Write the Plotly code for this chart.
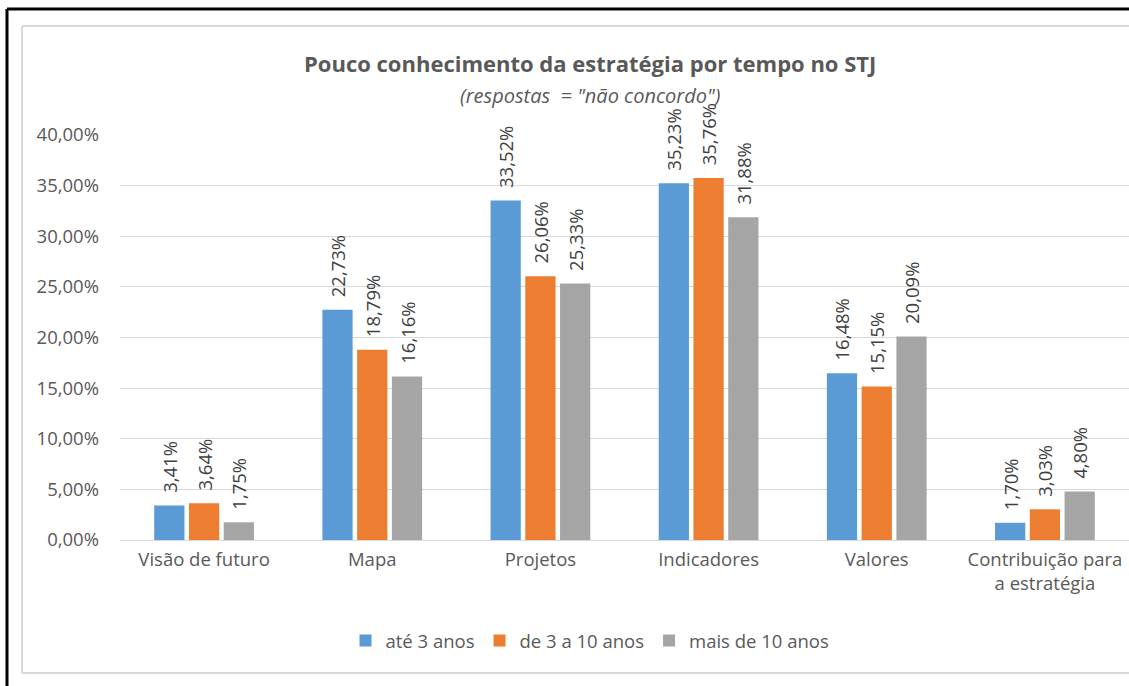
import plotly.graph_objects as go

categories = ["Visão de futuro", "Mapa", "Projetos", "Indicadores", "Valores",
              "Contribuição para<br>a estratégia"]
series_names = ["até 3 anos", "de 3 a 10 anos", "mais de 10 anos"]
ate3 = [0.0341, 0.2273, 0.3352, 0.3523, 0.1648, 0.0170]
de3a10 = [0.0364, 0.1879, 0.2606, 0.3576, 0.1515, 0.0303]
mais10 = [0.0175, 0.1616, 0.2533, 0.3188, 0.2009, 0.0480]
colors = ["#5B9BD5", "#ED7D31", "#A5A5A5"]
y_ticks = [0, 0.05, 0.10, 0.15, 0.20, 0.25, 0.30, 0.35, 0.40]
y_tick_labels = ["0,00%", "5,00%", "10,00%", "15,00%", "20,00%", "25,00%",
                 "30,00%", "35,00%", "40,00%"]

FONT = "Open Sans"
TXT = "#595959"

def fmt(v):
    # leading non-breaking spaces emulate Excel's label padding above the bar
    return "\u00a0\u00a0" + f"{v*100:.2f}%".replace(".", ",")

fig = go.Figure()
for name, vals, col in zip(series_names, [ate3, de3a10, mais10], colors):
    fig.add_trace(go.Bar(
        x=categories, y=vals, name=name,
        marker=dict(color=col, line=dict(width=0)),
        text=[fmt(v) for v in vals],
        textposition="outside", textangle=-90,
        textfont=dict(family=FONT, size=18.5, color="#404040"),
        cliponaxis=False, constraintext="none",
        hoverinfo="skip",
    ))

W, H = 1129, 686
ml, mr, mt, mb = 120, 0, 135, 146
pw = W - ml - mr
ph = H - mt - mb

def px_x(x):
    return (x - ml) / pw

def px_y(y):
    return (H - mb - y) / ph

title_x = px_x(590)

def hline(x0, x1, y, color, width):
    return dict(type="line", xref="paper", yref="paper",
                x0=px_x(x0), x1=px_x(x1), y0=px_y(y), y1=px_y(y),
                line=dict(color=color, width=width))

def vline(x, y0, y1, color, width):
    return dict(type="line", xref="paper", yref="paper",
                x0=px_x(x), x1=px_x(x), y0=px_y(y0), y1=px_y(y1),
                line=dict(color=color, width=width))

fig.update_layout(
    width=W, height=H,
    margin=dict(l=ml, r=mr, t=mt, b=mb, autoexpand=False),
    paper_bgcolor="white", plot_bgcolor="white",
    barmode="group", bargap=0.38, bargroupgap=0.13,
    font=dict(family=FONT, color=TXT, size=18.5),
    showlegend=True,
    legend=dict(orientation="h", x=title_x, xanchor="center",
                y=px_y(641), yanchor="middle",
                font=dict(family=FONT, size=18.5, color=TXT),
                itemwidth=30, traceorder="normal"),
    xaxis=dict(showgrid=False, showline=False, ticks="",
               tickfont=dict(family=FONT, size=18.5, color=TXT),
               ticklabelstandoff=6),
    yaxis=dict(range=[0, 0.40], tickvals=y_ticks, ticktext=y_tick_labels,
               showgrid=True, gridcolor="#D9D9D9", gridwidth=1,
               zeroline=True, zerolinecolor="#D9D9D9", zerolinewidth=1,
               showline=False, ticks="",
               tickfont=dict(family=FONT, size=18.5, color=TXT),
               ticklabelstandoff=20),
    annotations=[
        dict(text="<b>Pouco conhecimento da estratégia por tempo no STJ</b>",
             xref="paper", yref="paper", x=title_x, y=px_y(63),
             xanchor="center", yanchor="middle", showarrow=False,
             font=dict(family=FONT, size=22, color=TXT)),
        dict(text="<i>(respostas  = \"não concordo\")</i>",
             xref="paper", yref="paper", x=title_x, y=px_y(95),
             xanchor="center", yanchor="middle", showarrow=False,
             font=dict(family=FONT, size=20, color=TXT)),
    ],
    shapes=[
        # light-gray inner chart frame (right side is cropped off in the reference)
        vline(22, 26, 673, "#D9D9D9", 2),
        hline(22, 1135, 26, "#D9D9D9", 2),
        hline(22, 1135, 673, "#D9D9D9", 2),
        # black outer frame
        vline(7, 9, 700, "black", 3),
        hline(7, 1135, 9, "black", 3),
    ],
)

fig.write_html(
    "out.html",
    config={"displayModeBar": False},
    post_script="document.body.style.margin='0';document.body.style.padding='0';"
                "document.body.style.overflow='hidden';"
                "document.documentElement.style.overflow='hidden';",
)
